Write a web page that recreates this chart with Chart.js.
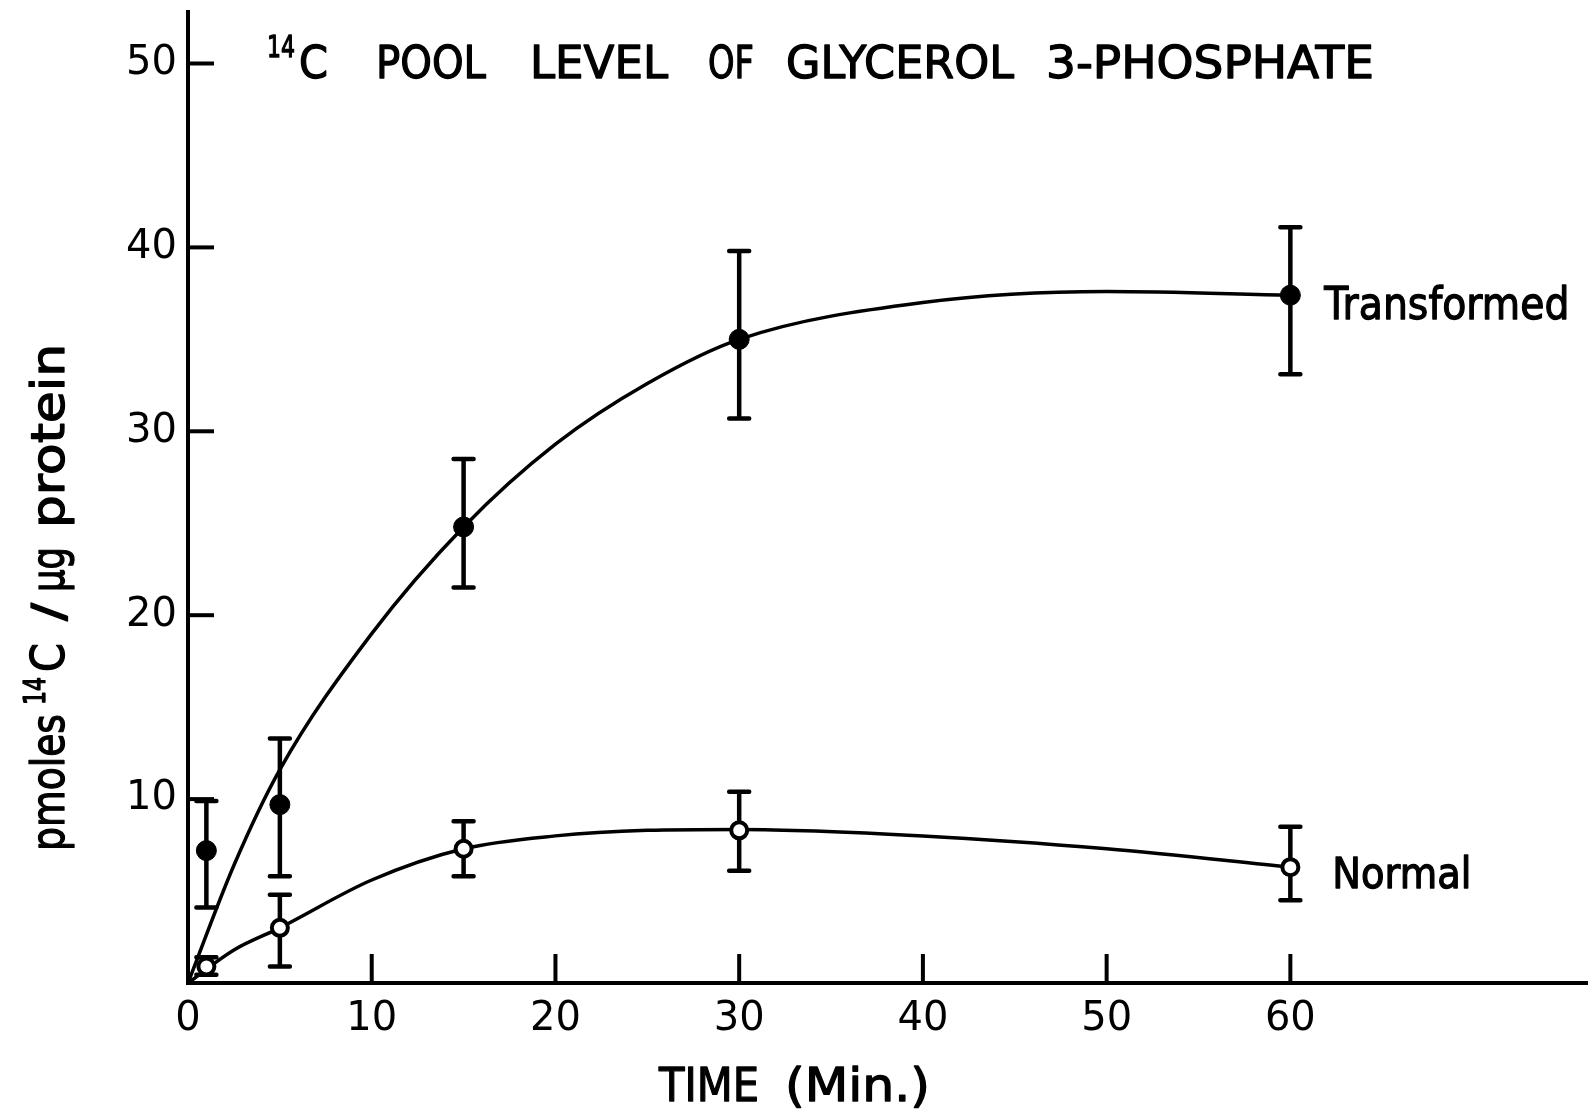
<!DOCTYPE html>
<html>
<head>
<meta charset="utf-8">
<title>14C pool level of glycerol 3-phosphate</title>
<script src="https://cdn.jsdelivr.net/npm/chart.js@4.4.1/dist/chart.umd.min.js"></script>
<style>
    html, body { margin: 0; padding: 0; background: #fff; }
    #wrap { width: 1588px; height: 1109px; }
</style>
</head>
<body>
<div id="wrap"><canvas id="poolChart" width="1588" height="1109"></canvas></div>
<script>
/* ====================================
   DATA
==================================== */

const timeMin = [1, 5, 15, 30, 60];

const transformedMean = [7.2, 9.7, 24.8, 35.0, 37.4];
const transformedLow  = [4.1, 5.8, 21.5, 30.7, 33.1];
const transformedHigh = [9.9, 13.3, 28.5, 39.8, 41.1];

const normalMean = [0.9, 3.0, 7.3, 8.3, 6.3];
const normalLow  = [0.45, 0.9, 5.8, 6.1, 4.5];
const normalHigh = [1.4, 4.8, 8.8, 10.4, 8.5];

// hand-drawn smooth curves
const fitTime        = [0, 2.5, 5, 10, 15, 20, 25, 30, 40, 50, 60];
const transformedFit = [0, 6.4, 11.6, 19.0, 24.8, 29.3, 32.6, 35.0, 37.0, 37.6, 37.4];
const normalFit      = [0, 1.8, 3.0, 5.6, 7.3, 8.0, 8.3, 8.35, 8.0, 7.3, 6.3];

const xTicks = [0, 10, 20, 30, 40, 50, 60];
const yTicks = [10, 20, 30, 40, 50];

/* ====================================
   HELPERS
==================================== */

const FONT = '"DejaVu Sans", "Liberation Sans", sans-serif';

function toPoints(xs, ys) {
    return xs.map((x, i) => ({ x: x, y: ys[i] }));
}

// text squeezed / stretched to run from x0 to x1 (pen lettering)
function drawFitted(ctx, text, x0, x1, baseline, size) {
    ctx.save();
    ctx.font = size + "px " + FONT;
    const natural = ctx.measureText(text).width;
    ctx.translate(x0, baseline);
    ctx.scale((x1 - x0) / natural, 1);
    ctx.textAlign = "left";
    ctx.textBaseline = "alphabetic";
    ctx.lineWidth = 1.3;
    ctx.lineJoin = "round";
    ctx.fillText(text, 0, 0);
    ctx.strokeText(text, 0, 0);
    ctx.restore();
}

/* ====================================
   PLUGINS
==================================== */

const errorBars = {
    id: "errorBars",
    beforeDatasetsDraw(chart) {
        const { ctx, scales: { x, y } } = chart;
        const sets = [
            [transformedLow, transformedHigh],
            [normalLow, normalHigh]
        ];
        ctx.save();
        ctx.strokeStyle = "#000";
        ctx.lineWidth = 4.5;
        ctx.lineCap = "round";
        sets.forEach(([low, high]) => {
            timeMin.forEach((t, i) => {
                const px = x.getPixelForValue(t);
                const top = y.getPixelForValue(high[i]);
                const bot = y.getPixelForValue(low[i]);
                ctx.beginPath();
                ctx.moveTo(px, top);
                ctx.lineTo(px, bot);
                ctx.moveTo(px - 10, top);
                ctx.lineTo(px + 10, top);
                ctx.moveTo(px - 10, bot);
                ctx.lineTo(px + 10, bot);
                ctx.stroke();
            });
        });
        ctx.restore();
    }
};

// tick marks point inward, as on the original
const innerTicks = {
    id: "innerTicks",
    afterDraw(chart) {
        const { ctx, scales: { x, y } } = chart;
        const x0 = x.getPixelForValue(0);
        const y0 = y.getPixelForValue(0);
        ctx.save();
        ctx.strokeStyle = "#000";
        ctx.lineWidth = 4;
        xTicks.filter(v => v > 0).forEach(v => {
            const px = x.getPixelForValue(v);
            ctx.beginPath();
            ctx.moveTo(px, y0);
            ctx.lineTo(px, y0 - 29);
            ctx.stroke();
        });
        yTicks.forEach(v => {
            const py = y.getPixelForValue(v);
            ctx.beginPath();
            ctx.moveTo(x0, py);
            ctx.lineTo(x0 + 26, py);
            ctx.stroke();
        });
        ctx.restore();
    }
};

const lettering = {
    id: "lettering",
    afterDraw(chart) {
        const { ctx, scales: { x, y } } = chart;
        ctx.save();
        ctx.fillStyle = "#000";
        ctx.strokeStyle = "#000";

        // title
        drawFitted(ctx, "14", 267, 295, 57, 30);
        drawFitted(ctx, "C", 299, 328, 78, 45);
        drawFitted(ctx, "POOL", 376, 486, 78, 45);
        drawFitted(ctx, "LEVEL", 530, 668, 78, 45);
        drawFitted(ctx, "OF", 708, 754, 78, 45);
        drawFitted(ctx, "GLYCEROL", 786, 1014, 78, 45);
        drawFitted(ctx, "3-PHOSPHATE", 1046, 1374, 78, 45);

        // x axis title
        drawFitted(ctx, "TIME", 659, 759, 1101, 47);
        drawFitted(ctx, "(Min.)", 785, 930, 1101, 47);

        // y axis title, rotated (offsets measured from the bottom end)
        ctx.save();
        ctx.translate(64, 851);
        ctx.rotate(-Math.PI / 2);
        drawFitted(ctx, "pmoles", 0, 137, 0, 46);
        drawFitted(ctx, "14", 146, 174, -19, 31);
        drawFitted(ctx, "C", 179, 208, 0, 46);
        drawFitted(ctx, "/", 230, 248, 0, 44);
        drawFitted(ctx, "µg", 259, 304, 0, 46);
        drawFitted(ctx, "protein", 323, 507, 0, 46);
        ctx.restore();

        // series labels next to the last point
        const last = timeMin.length - 1;
        const lx = x.getPixelForValue(timeMin[last]);
        const ty = y.getPixelForValue(transformedMean[last]);
        const ny = y.getPixelForValue(normalMean[last]);
        drawFitted(ctx, "Transformed", lx + 34, lx + 279, ty + 24, 45);
        drawFitted(ctx, "Normal", lx + 42, lx + 181, ny + 21, 42);

        ctx.restore();
    }
};

/* ====================================
   CHART
==================================== */

function createPoolChart() {

    const canvas = document.getElementById("poolChart");
    if (!canvas) return;

    new Chart(canvas, {

        type: "scatter",

        data: {
            datasets: [
                {
                    label: "Transformed",
                    data: toPoints(timeMin, transformedMean),
                    pointRadius: 10,
                    pointBackgroundColor: "#000",
                    pointBorderColor: "#000",
                    pointBorderWidth: 1,
                    showLine: false,
                    order: 0
                },
                {
                    label: "Normal",
                    data: toPoints(timeMin, normalMean),
                    pointRadius: 8,
                    pointBackgroundColor: "#fff",
                    pointBorderColor: "#000",
                    pointBorderWidth: 4,
                    showLine: false,
                    order: 1
                },
                {
                    label: "Transformed fit",
                    data: toPoints(fitTime, transformedFit),
                    showLine: true,
                    borderColor: "#000",
                    borderWidth: 3.5,
                    pointRadius: 0,
                    cubicInterpolationMode: "monotone",
                    order: 2
                },
                {
                    label: "Normal fit",
                    data: toPoints(fitTime, normalFit),
                    showLine: true,
                    borderColor: "#000",
                    borderWidth: 3.5,
                    pointRadius: 0,
                    cubicInterpolationMode: "monotone",
                    order: 3
                }
            ]
        },

        options: {
            responsive: false,
            animation: false,
            devicePixelRatio: 1,
            layout: {
                autoPadding: false,
                padding: { top: 12, right: 0, bottom: 0, left: 0 }
            },
            plugins: {
                legend: { display: false },
                tooltip: { enabled: false }
            },
            scales: {
                x: {
                    type: "linear",
                    min: 0,
                    max: 76.2,
                    afterFit: s => {
                        s.height = 126;
                        s.paddingLeft = 0;
                        s.paddingRight = 0;
                    },
                    afterBuildTicks: s => { s.ticks = xTicks.map(v => ({ value: v })); },
                    grid: { display: false, drawTicks: false },
                    border: { display: true, color: "#000", width: 4 },
                    ticks: {
                        color: "#000",
                        padding: 13,
                        maxRotation: 0,
                        autoSkip: false,
                        font: { family: FONT, size: 40 }
                    }
                },
                y: {
                    min: 0,
                    max: 52.8,
                    afterFit: s => {
                        s.width = 188;
                        s.paddingTop = 0;
                        s.paddingBottom = 0;
                    },
                    afterBuildTicks: s => { s.ticks = yTicks.map(v => ({ value: v })); },
                    grid: { display: false, drawTicks: false },
                    border: { display: true, color: "#000", width: 4 },
                    ticks: {
                        color: "#000",
                        padding: 11,
                        autoSkip: false,
                        font: { family: FONT, size: 40 }
                    }
                }
            }
        },

        plugins: [errorBars, innerTicks, lettering]

    });

}

document.addEventListener("DOMContentLoaded", () => {
    createPoolChart();
});
</script>
</body>
</html>
